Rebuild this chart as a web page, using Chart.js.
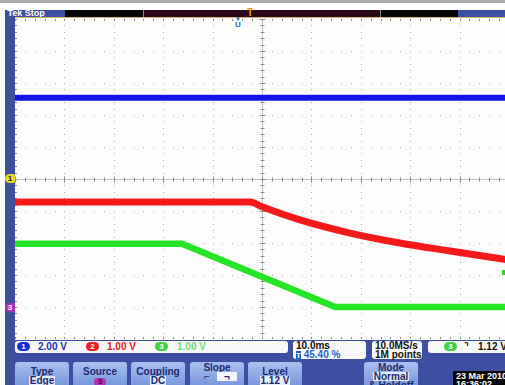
<!DOCTYPE html>
<html><head><meta charset="utf-8">
<script src="https://cdn.jsdelivr.net/npm/chart.js@4"></script>
<style>
html,body{margin:0;padding:0;width:505px;height:385px;overflow:hidden;background:#ffffff;font-family:"Liberation Sans",Arial,sans-serif;}
#wrap{position:relative;width:505px;height:385px;overflow:hidden;}
.abs{position:absolute;}
#topline{left:0;top:0;width:505px;height:3px;background:#a8a8a8;}
#leftbar{left:5px;top:10px;width:10px;height:375px;background:#3d4fa0;}
#bottom{left:5px;top:340px;width:500px;height:45px;background:#3d4fa0;}
#plotbg{left:15px;top:17px;width:490px;height:323px;background:#fcfcfc;}
#cv{position:absolute;left:15px;top:19px;}
.hdr{top:10px;height:7px;}
#tek{left:5px;width:60px;background:#3d4fa0;color:#fff;font-size:9px;font-weight:bold;line-height:7px;overflow:hidden;}
#tanline{left:15px;top:17px;width:490px;height:1px;background:#d8b070;}
.box{background:#f8f8f8;border-radius:3px;}
.txt{font-weight:bold;white-space:nowrap;}
.pill{position:absolute;height:9px;border-radius:5px;color:#fff;font-size:8px;font-weight:bold;line-height:9px;text-align:center;}
.btn{position:absolute;top:362px;width:54px;height:26px;border-radius:3px;background:linear-gradient(#a9c1ef,#7393d9);text-align:center;color:#1b2a6e;font-size:10px;font-weight:bold;line-height:9px;padding-top:5px;box-sizing:border-box;}
.btn .v{display:inline-block;background:#e4ebfa;padding:0 1px;}
</style></head>
<body><div id="wrap">
<div class="abs" id="topline"></div>
<div class="abs" id="leftbar"></div>
<div class="abs" id="bottom"></div>
<div class="abs" id="plotbg"></div>
<div class="abs hdr" id="tek">&nbsp;Tek Stop</div>
<div class="abs hdr" style="left:65px;width:78px;background:#050505;"></div>
<div class="abs hdr" style="left:143px;width:1px;background:#888;"></div>
<div class="abs hdr" style="left:144px;width:236px;background:#2a0818;"></div>
<div class="abs hdr" style="left:380px;width:1px;background:#888;"></div>
<div class="abs hdr" style="left:381px;width:77px;background:#050505;"></div>
<div class="abs hdr" style="left:458px;width:47px;background:#3d4fa0;"></div>
<div class="abs" id="tanline"></div>
<div class="abs txt" style="left:247px;top:8px;font-size:10px;color:#f0a018;line-height:10px;">T</div>
<div class="abs txt" style="left:235px;top:16px;font-size:6px;color:#2060d0;line-height:6px;">▼</div>
<div class="abs txt" style="left:235px;top:21px;font-size:8px;color:#2060d0;line-height:8px;">U</div>
<canvas id="cv" width="494" height="320"></canvas>
<div class="pill" style="left:5px;top:174px;width:10px;background:#e6dc1c;color:#222;border-radius:5px 2px 2px 5px;">1</div>
<div class="pill" style="left:5px;top:303px;width:10px;background:#b030b8;border-radius:5px 2px 2px 5px;">3</div>
<div class="abs" style="left:502px;top:270px;width:3px;height:5px;background:#30d030;"></div>
<!-- readouts -->
<div class="abs box" style="left:15px;top:341px;width:273px;height:12px;"></div>
<div class="pill" style="left:17px;top:342px;width:13px;background:#1530d0;">1</div>
<div class="abs txt" style="left:38px;top:341px;font-size:10px;line-height:12px;color:#2030b0;">2.00 V</div>
<div class="pill" style="left:86px;top:342px;width:13px;background:#e82020;">2</div>
<div class="abs txt" style="left:107px;top:341px;font-size:10px;line-height:12px;color:#e02020;">1.00 V</div>
<div class="pill" style="left:155px;top:342px;width:13px;background:#40d040;">3</div>
<div class="abs txt" style="left:177px;top:341px;font-size:10px;line-height:12px;color:#70e070;">1.00 V</div>
<div class="abs box" style="left:293px;top:341px;width:73px;height:18px;"></div>
<div class="abs txt" style="left:296px;top:340px;font-size:10px;line-height:11px;color:#111;">10.0ms</div>
<div class="abs txt" style="left:296px;top:349px;font-size:10px;line-height:11px;color:#2060d0;"><span style="background:#2060d0;color:#fff;font-size:8px;">T</span> 45.40 %</div>
<div class="abs box" style="left:372px;top:341px;width:50px;height:18px;"></div>
<div class="abs txt" style="left:375px;top:340px;font-size:10px;line-height:11px;color:#111;">10.0MS/s</div>
<div class="abs txt" style="left:375px;top:349px;font-size:10px;line-height:11px;color:#111;">1M points</div>
<div class="abs box" style="left:428px;top:341px;width:80px;height:12px;"></div>
<div class="pill" style="left:444px;top:342px;width:13px;background:#40d040;">3</div>
<div class="abs txt" style="left:464px;top:341px;font-size:10px;line-height:12px;color:#111;">⌝</div>
<div class="abs txt" style="left:478px;top:341px;font-size:10px;line-height:12px;color:#111;">1.12 V</div>
<!-- buttons -->
<div class="btn" style="left:15px;">Type<br><span class="v">Edge</span></div>
<div class="btn" style="left:73px;">Source<br><span class="v" style="background:#b030b8;color:#4a0a50;border-radius:4px;font-size:8px;line-height:8px;padding:0 4px;">3</span></div>
<div class="btn" style="left:131px;">Coupling<br><span class="v">DC</span></div>
<div class="btn" style="left:190px;padding-top:1px;">Slope<br><span style="display:inline-block;width:20px;">⌐</span><span class="v" style="width:18px;background:#f4f6fc;">¬</span></div>
<div class="btn" style="left:248px;">Level<br><span class="v">1.12 V</span></div>
<div class="btn" style="left:364px;padding-top:1px;line-height:9px;">Mode<br><span class="v">Normal</span><br>&amp; Holdoff</div>
<div class="abs txt" style="left:453px;top:371px;width:52px;height:14px;background:#050505;color:#fff;font-size:9px;line-height:8px;padding:1px 0 0 3px;">23 Mar 2010<br>16:36:02</div>
</div>
<script>
// Time axis (ms), 10.0 ms/div, trigger at 0
const timeTicksMs = [-50,-40,-30,-20,-10,0,10,20,30,40,50];
// vertical divisions
const divTicks = [-5,-4,-3,-2,-1,0,1,2,3,4,5];

// Channel 1 (blue), 2.00 V/div, ground at 0 div
const ch1TimeMs = [-50, 50];
const ch1Volts  = [5.08, 5.08];
// Channel 2 (red), 1.00 V/div, ground at -4 div
const ch2TimeMs = [-50, -2.4, 0, 7.7, 17.8, 27.9, 38.1, 50];
const ch2Volts  = [3.28, 3.28, 3.13, 2.72, 2.31, 2.00, 1.75, 1.47];
// Channel 3 (green), 1.00 V/div, ground at -4 div
const ch3TimeMs = [-50, -16.2, 14.8, 50];
const ch3Volts  = [1.98, 1.98, 0.0, 0.0];

const chScale  = {ch1: 2.0, ch2: 1.0, ch3: 1.0};
const chOffset = {ch1: 0, ch2: -4, ch3: -4};

function toDiv(times, volts, ch){
  return times.map((t,i)=>({x:t, y: volts[i]/chScale[ch] + chOffset[ch]}));
}

const scopeGrid = {
  id:'scopeGrid',
  beforeDatasetsDraw(chart){
    const {ctx, scales:{x,y}} = chart;
    ctx.save();
    ctx.fillStyle = '#a6a6a6';
    const xt = x.ticks.map(t=>t.value), yt = y.ticks.map(t=>t.value);
    xt.forEach(v=>{
      if (v===0) return;
      const px = Math.round(x.getPixelForValue(v));
      for (let k=-25;k<=25;k++){ ctx.fillRect(px, Math.round(y.getPixelForValue(k/5)), 1, 1); }
    });
    yt.forEach(v=>{
      if (v===0) return;
      const py = Math.round(y.getPixelForValue(v));
      for (let k=-50;k<=50;k++){ ctx.fillRect(Math.round(x.getPixelForValue(k*2)), py, 1, 1); }
    });
    const cx = Math.round(x.getPixelForValue(0))+0.5, cy = Math.round(y.getPixelForValue(0))+0.5;
    ctx.strokeStyle = '#c4c4c4'; ctx.lineWidth = 1;
    ctx.beginPath(); ctx.moveTo(x.left, cy); ctx.lineTo(x.right, cy); ctx.moveTo(cx, y.top); ctx.lineTo(cx, y.bottom); ctx.stroke();
    ctx.strokeStyle = '#8a8a8a';
    ctx.beginPath();
    for (let k=-50;k<=50;k++){ const px=Math.round(x.getPixelForValue(k*2))+0.5; const l = (k%5===0)?3:2; ctx.moveTo(px, cy-l); ctx.lineTo(px, cy+l);
      ctx.moveTo(px, y.top); ctx.lineTo(px, y.top+2); ctx.moveTo(px, y.bottom); ctx.lineTo(px, y.bottom-2); }
    for (let k=-25;k<=25;k++){ const py=Math.round(y.getPixelForValue(k/5))+0.5; const l=(k%5===0)?3:2; ctx.moveTo(cx-l, py); ctx.lineTo(cx+l, py);
      ctx.moveTo(x.left, py); ctx.lineTo(x.left+2, py); }
    ctx.stroke();
    ctx.restore();
  }
};

new Chart(document.getElementById('cv'), {
  type:'line',
  data:{ datasets:[
    {label:'CH1', data: toDiv(ch1TimeMs, ch1Volts, 'ch1'), borderColor:'#1414e6', borderWidth:6, pointRadius:0, tension:0},
    {label:'CH2', data: toDiv(ch2TimeMs, ch2Volts, 'ch2'), borderColor:'#f41a1a', borderWidth:7, pointRadius:0, cubicInterpolationMode:'monotone'},
    {label:'CH3', data: toDiv(ch3TimeMs, ch3Volts, 'ch3'), borderColor:'#26e426', borderWidth:6.5, pointRadius:0, tension:0}
  ]},
  options:{
    responsive:false, animation:false, events:[],
    layout:{padding:0},
    plugins:{legend:{display:false}, tooltip:{enabled:false}},
    scales:{
      x:{type:'linear', min:-50, max:50, afterBuildTicks:(s)=>{s.ticks = timeTicksMs.map(v=>({value:v}));},
         ticks:{display:false}, grid:{display:false, drawTicks:false}, border:{display:false}},
      y:{type:'linear', min:-5, max:5, afterBuildTicks:(s)=>{s.ticks = divTicks.map(v=>({value:v}));},
         ticks:{display:false}, grid:{display:false, drawTicks:false}, border:{display:false}}
    }
  },
  plugins:[scopeGrid]
});
</script>
</body></html>
